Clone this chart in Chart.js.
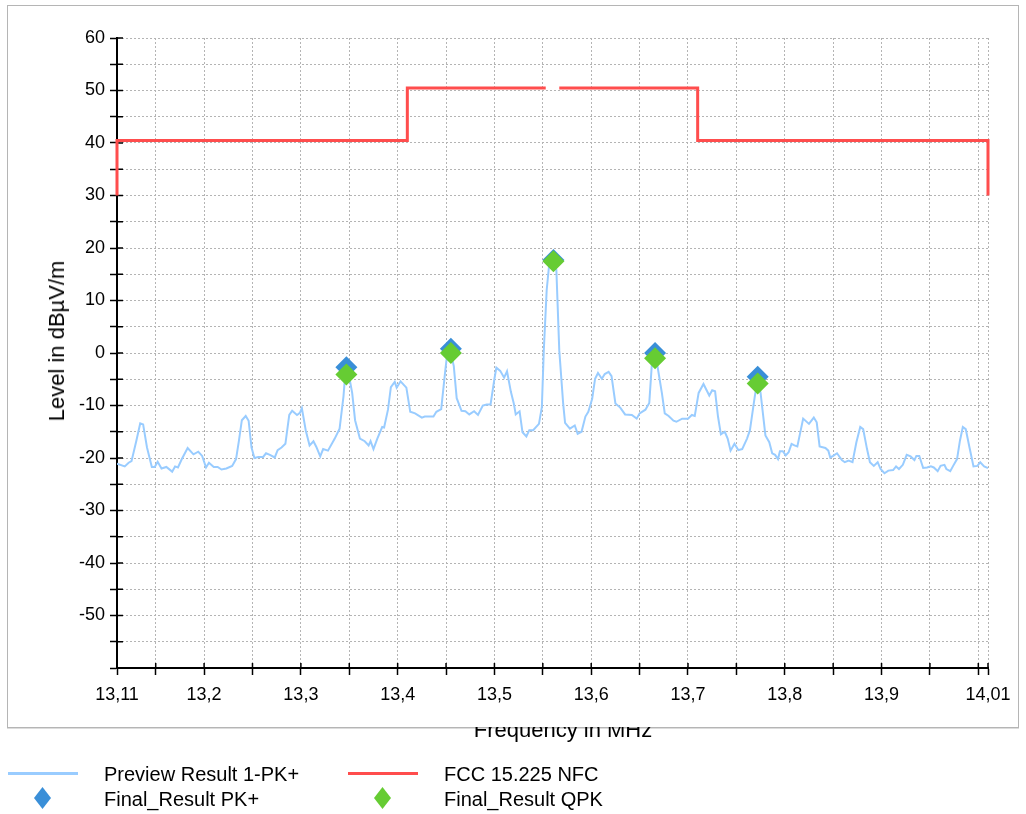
<!DOCTYPE html>
<html>
<head>
<meta charset="utf-8">
<script src="https://cdn.jsdelivr.net/npm/chart.js@4.4.1/dist/chart.umd.min.js"></script>
<style>
  body { margin: 0; background: #fff; font-family: "Liberation Sans", Arial, sans-serif; color: #000; }
  #wrap { position: relative; width: 1026px; height: 814px; overflow: hidden; }
  #frame { position: absolute; left: 7px; top: 5px; width: 1012px; height: 723px; box-sizing: border-box;
           border: 1px solid #b5b5b5; box-shadow: 0 1px 0 #dcdcdc; }
  #chart { position: absolute; left: 0; top: 0; }
  .ytitle { position: absolute; left: 57px; top: 341px; transform: translate(-50%, -50%) rotate(-90deg);
            white-space: nowrap; font-size: 22px; }
  .xclip { position: absolute; left: 0; top: 727px; width: 1026px; height: 24px; overflow: hidden; }
  .xtitle { position: absolute; left: 563px; top: -8px; transform: translateX(-50%); white-space: nowrap;
            font-size: 22px; line-height: 22px; }
  .lg-line { position: absolute; width: 70px; height: 3px; }
  .lg-text { position: absolute; font-size: 20px; line-height: 24px; white-space: nowrap; }
  .lg-mark { position: absolute; }
</style>
</head>
<body>
<div id="wrap">
  <div id="frame"></div>
  <canvas id="chart" width="1026" height="814"></canvas>
  <div class="ytitle">Level in dBµV/m</div>
  <div class="xclip"><div class="xtitle">Frequency in MHz</div></div>

  <div class="lg-line" style="left:8px; top:772px; background:#99ccff;"></div>
  <div class="lg-text" style="left:104px; top:762px;">Preview Result 1-PK+</div>
  <div class="lg-line" style="left:348px; top:772px; background:#ff4d4d;"></div>
  <div class="lg-text" style="left:444px; top:762px;">FCC 15.225 NFC</div>

  <svg class="lg-mark" style="left:34px; top:787px;" width="17" height="22"><polygon points="8.5,0 17,11 8.5,22 0,11" fill="#3a8fd8"/></svg>
  <div class="lg-text" style="left:104px; top:787px;">Final_Result PK+</div>
  <svg class="lg-mark" style="left:374px; top:787px;" width="17" height="22"><polygon points="8.5,0 17,11 8.5,22 0,11" fill="#66cc33"/></svg>
  <div class="lg-text" style="left:444px; top:787px;">Final_Result QPK</div>
</div>

<script>
// Preview Result 1-PK+ (Frequenz in MHz / Pegel in dBµV/m)
const previewFreq = [
  13.110, 13.118, 13.122, 13.125, 13.130, 13.134, 13.137, 13.141, 13.146, 13.149,
  13.152, 13.156, 13.161, 13.167, 13.170, 13.173, 13.177, 13.183, 13.189, 13.194,
  13.198, 13.202, 13.205, 13.210, 13.214, 13.218, 13.223, 13.229, 13.233, 13.236,
  13.239, 13.243, 13.246, 13.249, 13.252, 13.256, 13.261, 13.264, 13.268, 13.273,
  13.276, 13.280, 13.284, 13.288, 13.291, 13.296, 13.299, 13.301, 13.305, 13.309,
  13.313, 13.316, 13.320, 13.323, 13.328, 13.335, 13.340, 13.344, 13.346, 13.349,
  13.353, 13.356, 13.361, 13.366, 13.370, 13.372, 13.375, 13.379, 13.384, 13.386,
  13.390, 13.393, 13.397, 13.399, 13.403, 13.409, 13.413, 13.418, 13.425, 13.428,
  13.437, 13.440, 13.445, 13.449, 13.452, 13.454, 13.458, 13.461, 13.466, 13.470,
  13.474, 13.479, 13.483, 13.488, 13.492, 13.496, 13.500, 13.502, 13.506, 13.510,
  13.513, 13.517, 13.520, 13.522, 13.526, 13.529, 13.533, 13.536, 13.540, 13.546,
  13.549, 13.551, 13.554, 13.557, 13.561, 13.564, 13.567, 13.571, 13.573, 13.578,
  13.583, 13.586, 13.590, 13.594, 13.597, 13.601, 13.604, 13.607, 13.611, 13.614,
  13.618, 13.621, 13.625, 13.630, 13.635, 13.642, 13.647, 13.650, 13.656, 13.660,
  13.663, 13.666, 13.669, 13.673, 13.676, 13.680, 13.685, 13.688, 13.694, 13.700,
  13.704, 13.707, 13.711, 13.716, 13.722, 13.725, 13.728, 13.731, 13.734, 13.738,
  13.741, 13.744, 13.748, 13.752, 13.756, 13.761, 13.764, 13.769, 13.772, 13.775,
  13.780, 13.784, 13.787, 13.790, 13.793, 13.795, 13.798, 13.801, 13.804, 13.807,
  13.810, 13.813, 13.819, 13.825, 13.830, 13.833, 13.836, 13.842, 13.845, 13.847,
  13.850, 13.854, 13.859, 13.862, 13.866, 13.870, 13.874, 13.878, 13.881, 13.885,
  13.888, 13.892, 13.896, 13.899, 13.903, 13.907, 13.912, 13.915, 13.918, 13.922,
  13.926, 13.930, 13.934, 13.936, 13.939, 13.943, 13.947, 13.951, 13.954, 13.958,
  13.961, 13.965, 13.967, 13.971, 13.974, 13.978, 13.981, 13.984, 13.987, 13.991,
  13.995, 13.999, 14.002, 14.006, 14.010
];
const previewLevel = [
  -21.1, -21.6, -20.9, -20.6, -16.7, -13.4, -13.6, -18.0, -21.7, -21.7,
  -20.7, -22.0, -21.7, -22.6, -21.6, -21.8, -20.2, -18.1, -19.3, -18.8,
  -19.6, -21.8, -20.9, -21.7, -21.7, -22.2, -22.0, -21.5, -20.2, -16.7,
  -12.8, -12.0, -12.9, -18.0, -20.0, -19.8, -19.8, -19.1, -19.4, -19.9,
  -18.5, -18.0, -17.3, -11.8, -11.0, -11.8, -11.4, -10.5, -14.7, -17.6,
  -16.8, -17.9, -19.7, -18.3, -18.6, -16.3, -14.4, -8.3, -3.7, -3.6,
  -7.6, -12.8, -16.3, -16.8, -17.6, -16.8, -18.3, -16.3, -14.1, -14.2,
  -10.8, -6.5, -5.5, -6.6, -5.4, -6.6, -11.2, -11.5, -12.3, -12.1,
  -12.1, -11.2, -10.7, -3.7, 1.1, 0.8, -2.5, -8.6, -11.0, -11.1,
  -11.7, -11.1, -11.8, -10.0, -9.8, -9.8, -4.9, -2.8, -3.4, -4.7,
  -3.5, -7.4, -9.6, -11.7, -11.1, -15.1, -15.9, -14.7, -14.7, -13.5,
  -10.3, 0.5, 12.0, 17.7, 18.5, 15.8, 0.5, -9.6, -13.3, -14.4,
  -13.8, -15.4, -15.0, -12.1, -11.2, -8.7, -4.9, -3.8, -4.9, -4.0,
  -3.6, -4.4, -9.6, -10.4, -11.7, -11.8, -12.5, -11.5, -10.8, -9.5,
  -1.2, 0.3, -3.1, -7.6, -11.5, -12.0, -12.9, -13.1, -12.5, -12.5,
  -11.8, -12.0, -7.6, -5.9, -8.1, -7.1, -7.3, -12.1, -15.5, -15.0,
  -16.3, -18.6, -17.3, -18.5, -18.3, -16.3, -14.7, -8.3, -5.0, -7.6,
  -15.7, -17.0, -19.1, -19.4, -20.2, -18.7, -18.7, -19.5, -18.9, -17.3,
  -17.6, -17.8, -12.5, -13.5, -12.3, -13.2, -17.8, -18.1, -18.6, -19.9,
  -19.6, -19.1, -20.4, -20.8, -20.5, -20.8, -17.0, -14.1, -14.5, -18.3,
  -20.8, -21.5, -20.8, -22.1, -22.9, -22.4, -22.3, -21.6, -22.1, -21.3,
  -19.4, -19.7, -20.4, -19.6, -19.6, -21.9, -21.8, -21.6, -21.8, -22.5,
  -21.5, -21.3, -22.1, -22.5, -21.5, -20.2, -16.7, -14.1, -14.5, -18.1,
  -21.6, -21.5, -20.8, -21.6, -21.9
];

// Grenzwertlinie FCC 15.225 (null = Lücke im Band 13,553..13,567)
const limitFreq  = [13.11, 13.11, 13.41, 13.41, 13.553, 13.56, 13.567, 13.71, 13.71, 14.01, 14.01];
const limitLevel = [30, 40.5, 40.5, 50.5, 50.5, null, 50.5, 50.5, 40.5, 40.5, 30];

// Final-Messpunkte
const finalFreq = [13.347, 13.455, 13.561, 13.666, 13.772];
const finalPk   = [-2.7, 0.8, 17.7, 0.0, -4.5];
const finalQpk  = [-4.1, 0.0, 17.5, -1.0, -5.8];

// Achsen-Ticks
const xTickValues = [13.11, 13.15, 13.2, 13.25, 13.3, 13.35, 13.4, 13.45, 13.5, 13.55, 13.6,
                     13.65, 13.7, 13.75, 13.8, 13.85, 13.9, 13.95, 14.0, 14.01];
const xLabelValues = [13.11, 13.2, 13.3, 13.4, 13.5, 13.6, 13.7, 13.8, 13.9, 14.01];
const yTickValues = [-60, -55, -50, -45, -40, -35, -30, -25, -20, -15, -10, -5, 0,
                     5, 10, 15, 20, 25, 30, 35, 40, 45, 50, 55, 60];
const yLabelValues = [-50, -40, -30, -20, -10, 0, 10, 20, 30, 40, 50, 60];

const FONT = "'Liberation Sans', Arial, sans-serif";
const toXY = (xs, ys) => xs.map((x, i) => ({ x: x, y: ys[i] }));

// kurze Tickstriche innerhalb der Zeichenfläche (Ticks kreuzen die Achse)
const innerTicks = {
    id: 'innerTicks',
    beforeDatasetsDraw(chart) {
        const { ctx, chartArea, scales } = chart;
        ctx.save();
        ctx.strokeStyle = '#000';
        ctx.lineWidth = 1.5;
        ctx.beginPath();
        xTickValues.forEach(v => {
            const px = scales.x.getPixelForValue(v);
            ctx.moveTo(px, chartArea.bottom);
            ctx.lineTo(px, chartArea.bottom - 5);
        });
        yTickValues.forEach(v => {
            const py = scales.y.getPixelForValue(v);
            ctx.moveTo(chartArea.left, py);
            ctx.lineTo(chartArea.left + 6, py);
        });
        ctx.stroke();
        ctx.restore();
    }
};

new Chart(document.getElementById('chart'), {
    type: 'line',
    data: {
        datasets: [
            {
                label: 'Final_Result QPK',
                data: toXY(finalFreq, finalQpk),
                showLine: false,
                pointStyle: 'rectRot',
                pointRadius: 11,
                backgroundColor: '#66cc33',
                borderColor: '#66cc33',
                borderWidth: 0,
                order: 0,
                clip: false,
            },
            {
                label: 'Final_Result PK+',
                data: toXY(finalFreq, finalPk),
                showLine: false,
                pointStyle: 'rectRot',
                pointRadius: 11,
                backgroundColor: '#3a8fd8',
                borderColor: '#3a8fd8',
                borderWidth: 0,
                order: 1,
                clip: false,
            },
            {
                label: 'Preview Result 1-PK+',
                data: toXY(previewFreq, previewLevel),
                borderColor: '#99ccff',
                borderWidth: 2,
                pointRadius: 0,
                tension: 0,
                order: 2,
            },
            {
                label: 'FCC 15.225 NFC',
                data: toXY(limitFreq, limitLevel),
                borderColor: '#ff4d4d',
                borderWidth: 3,
                pointRadius: 0,
                tension: 0,
                spanGaps: false,
                order: 3,
                clip: false,
            },
        ],
    },
    options: {
        responsive: false,
        animation: false,
        layout: { padding: { left: 0, top: 38, right: 38, bottom: 106 } },
        plugins: {
            legend: { display: false },
            tooltip: { enabled: false },
        },
        scales: {
            x: {
                type: 'linear',
                min: 13.11,
                max: 14.01,
                afterBuildTicks: s => { s.ticks = xTickValues.map(v => ({ value: v })); },
                afterFit: s => { s.height = 40; },
                ticks: {
                    autoSkip: false,
                    maxRotation: 0,
                    padding: 9,
                    color: '#000',
                    font: { family: FONT, size: 18 },
                    callback: v => xLabelValues.indexOf(v) >= 0 ? String(v).replace('.', ',') : '',
                },
                grid: { color: '#b4b4b4', lineWidth: 1, tickColor: '#000', tickLength: 7, tickWidth: 1.5 },
                border: { color: '#000', width: 2, dash: [2, 2] },
            },
            y: {
                min: -60,
                max: 60,
                afterBuildTicks: s => { s.ticks = yTickValues.map(v => ({ value: v })); },
                afterFit: s => { s.width = 117; },
                ticks: {
                    padding: 5,
                    color: '#000',
                    font: { family: FONT, size: 18 },
                    callback: v => yLabelValues.indexOf(v) >= 0 ? String(v) : '',
                },
                grid: { color: '#b4b4b4', lineWidth: 1, tickColor: '#000', tickLength: 7, tickWidth: 1.5 },
                border: { color: '#000', width: 2, dash: [2, 2] },
            },
        },
    },
    plugins: [innerTicks],
});
</script>
</body>
</html>
